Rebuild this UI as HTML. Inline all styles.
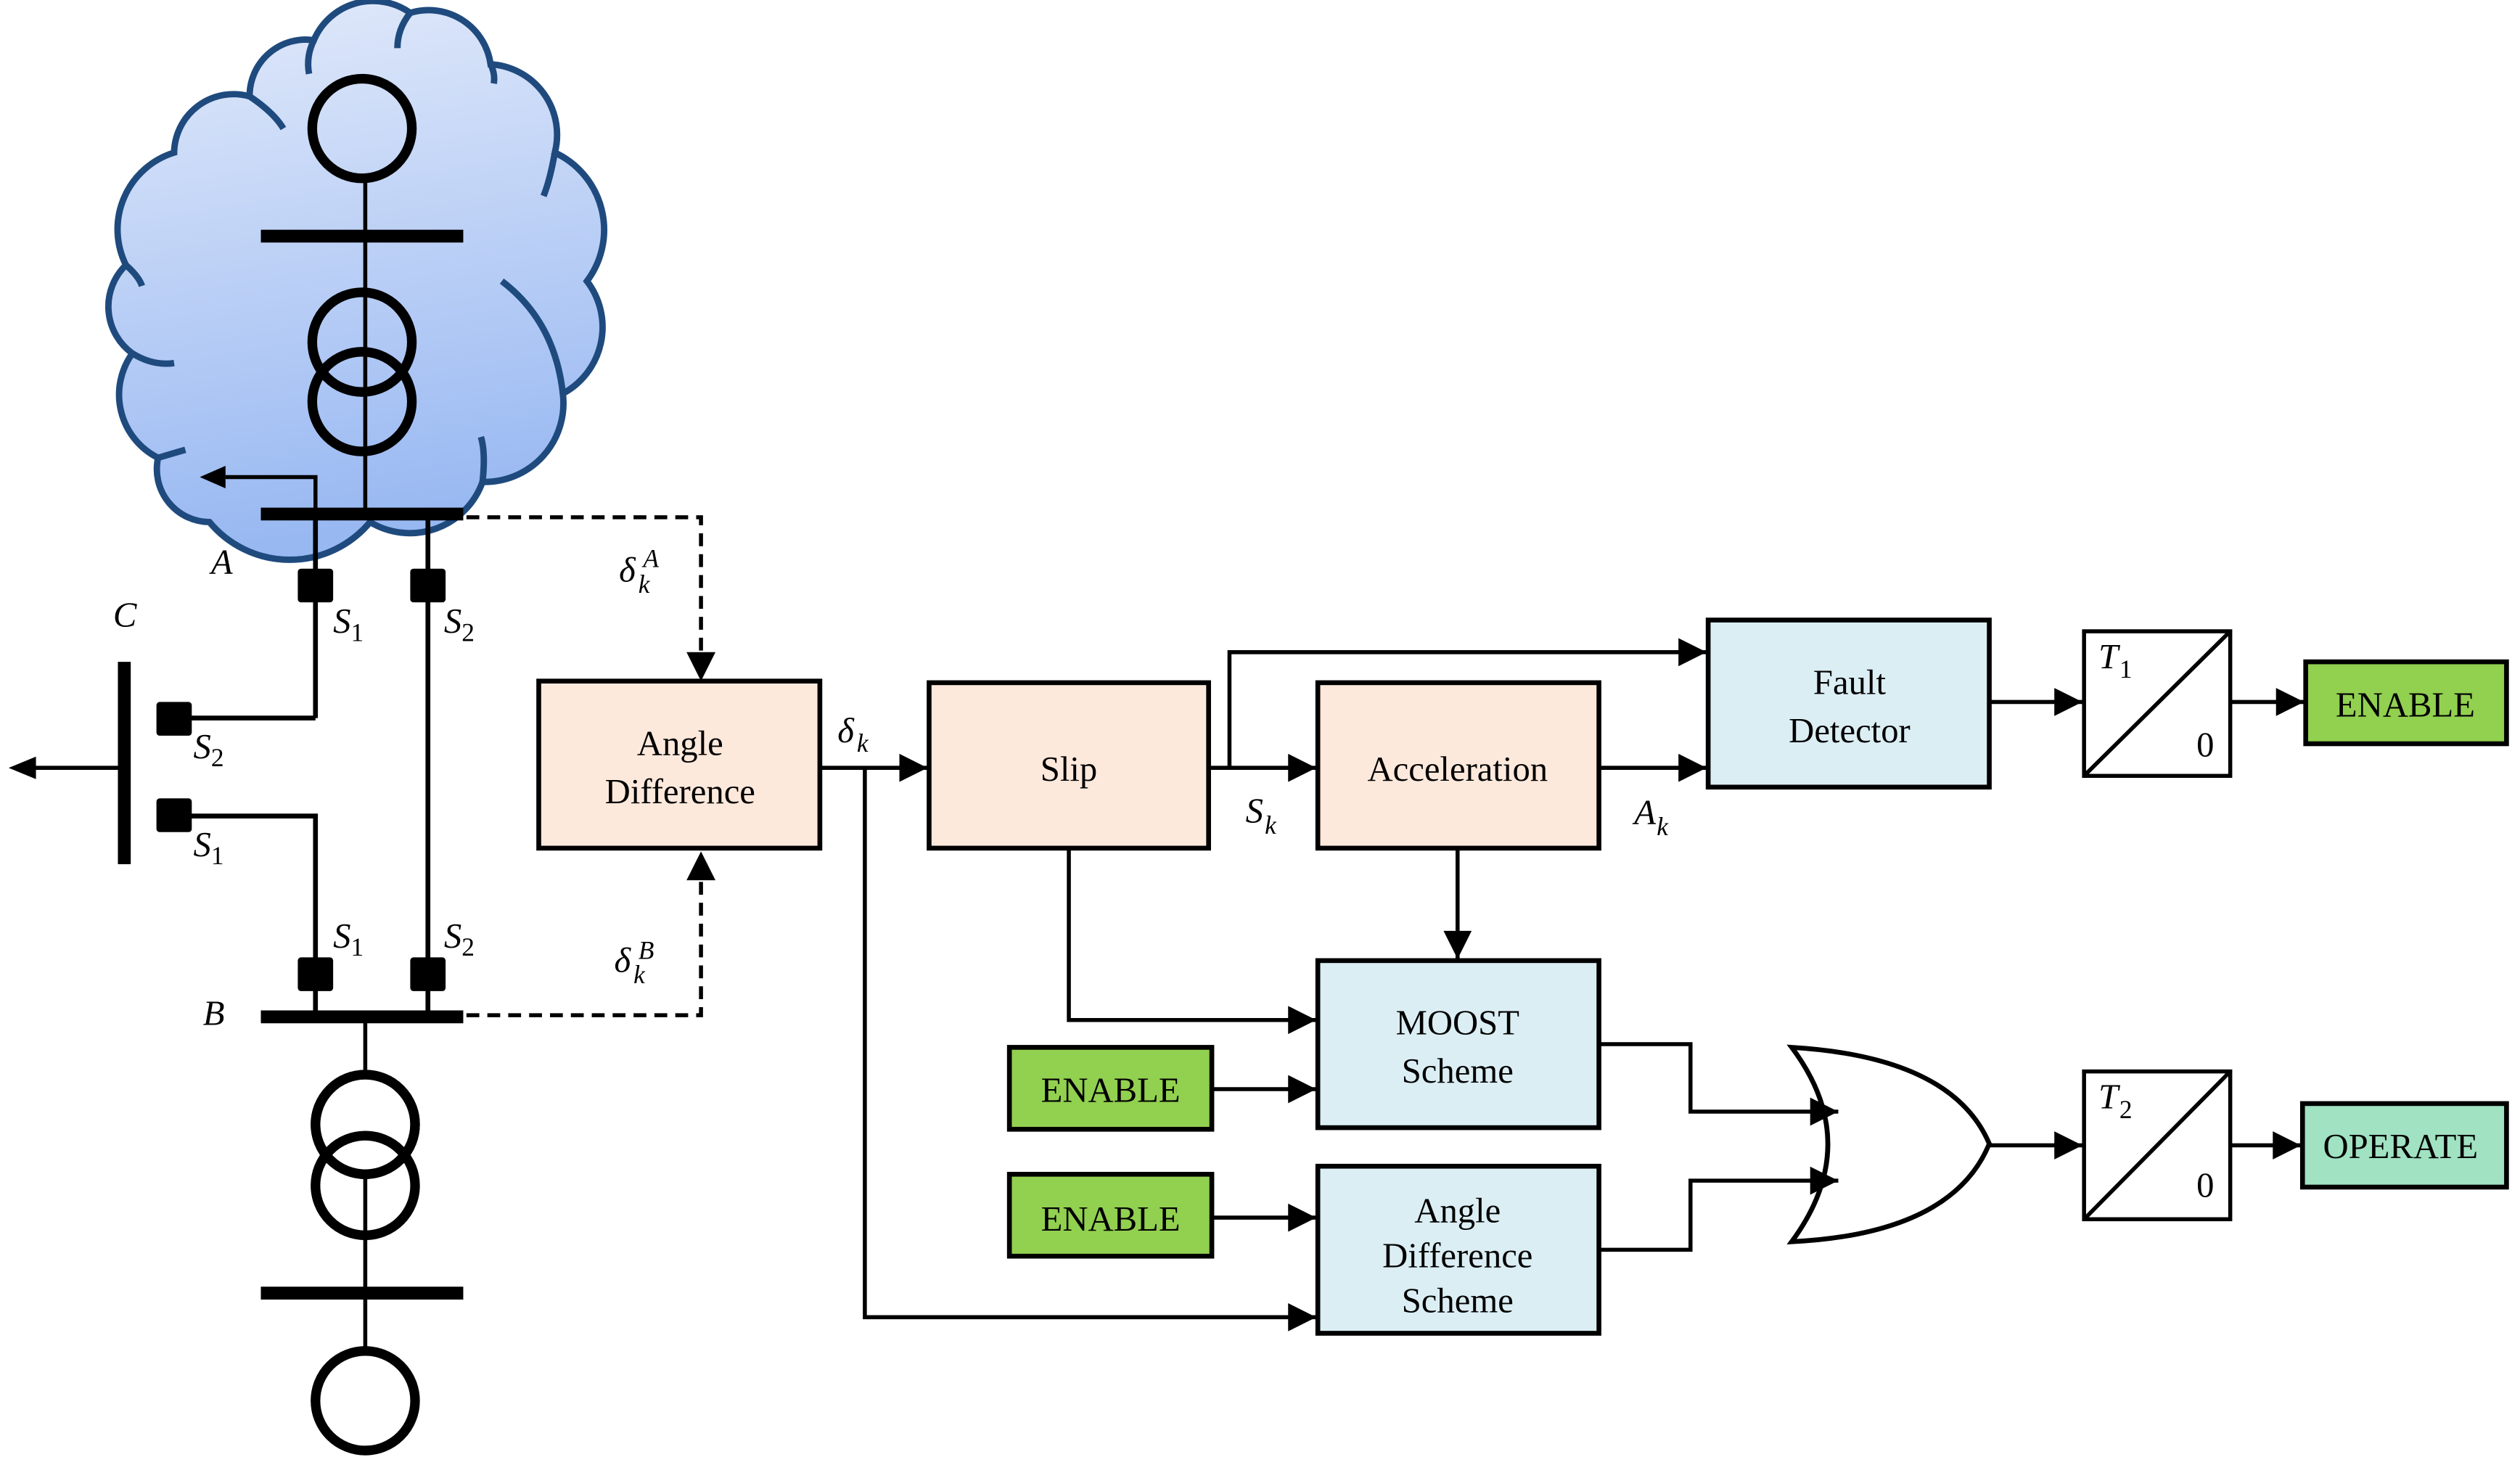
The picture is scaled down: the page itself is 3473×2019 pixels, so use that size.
<!DOCTYPE html>
<html><head><meta charset="utf-8"><style>
html,body{margin:0;padding:0;background:#fff}
svg{display:block}
svg text, svg tspan{font-family:"Liberation Serif","Times New Roman",Times,"DejaVu Serif",serif !important}
</style></head><body>
<svg width="3473" height="2019" viewBox="0 0 1568 912" xmlns="http://www.w3.org/2000/svg" style="font-family:'Liberation Serif','Times New Roman',Times,serif">
<defs>
<linearGradient id="cg" x1="0" y1="0" x2="0.15" y2="1">
<stop offset="0" stop-color="#e2eafa"/><stop offset="1" stop-color="#98b8f2"/>
</linearGradient>
<marker id="ahs" viewBox="0 0 10 10" refX="10" refY="5" markerWidth="7.5" markerHeight="7" markerUnits="strokeWidth" orient="auto"><path d="M0,0 L10,5 L0,10 Z" fill="#000"/></marker>
</defs>
<!-- cloud -->
<path d="M130,325 A33 33 0 0 1 98,285 A44 44 0 0 1 82,220 A36 36 0 0 1 78,165 A50 50 0 0 1 108,95 A37 37 0 0 1 155,60 A35 35 0 0 1 195,25 A40 40 0 0 1 255,8 A39 39 0 0 1 305,40 A44 44 0 0 1 345,95 A53 53 0 0 1 365,175 A47 47 0 0 1 350,245 A49 49 0 0 1 300,300 A48 48 0 0 1 230,325 A65 65 0 0 1 130,325 Z" fill="url(#cg)" stroke="#1f4a7e" stroke-width="4"/>
<g fill="none" stroke="#1f4a7e" stroke-width="4">
<path d="M155,60 Q170,70 176,80"/><path d="M195,25 Q190,35 192,46"/><path d="M255,8 Q247,18 247,30"/><path d="M305,40 Q308,46 307,52"/><path d="M345,95 Q342,112 338,122"/><path d="M312,175 Q345,200 350,245"/><path d="M300,300 Q302,282 299,272"/><path d="M82,220 Q95,228 108,226"/><path d="M98,285 Q108,282 115,280"/><path d="M78,165 Q86,172 88,178"/>
</g>
<!-- top network -->
<g stroke="#000" fill="none">
<line x1="227" y1="112" x2="227" y2="320" stroke-width="2.5"/>
<circle cx="225" cy="80" r="31" stroke-width="6"/>
<circle cx="225" cy="213" r="31" stroke-width="6"/>
<circle cx="225" cy="250" r="31" stroke-width="6"/>
<line x1="162" y1="147" x2="288" y2="147" stroke-width="8"/>
<line x1="162" y1="320" x2="288" y2="320" stroke-width="8"/>
<polyline points="196,320 196,297 140,297" stroke-width="2.5"/>
<line x1="196" y1="320" x2="196" y2="447" stroke-width="3"/>
<line x1="266" y1="320" x2="266" y2="633" stroke-width="3"/>
<polyline points="196,447 108,447" stroke-width="3"/>
<polyline points="108,508 196,508 196,633" stroke-width="3"/>
<line x1="77" y1="412" x2="77" y2="538" stroke-width="8"/>
<line x1="77" y1="478" x2="20" y2="478" stroke-width="2.5"/>
<line x1="162" y1="633" x2="288" y2="633" stroke-width="8"/>
<line x1="227" y1="633" x2="227" y2="905" stroke-width="2.5"/>
<circle cx="227" cy="700" r="31" stroke-width="6" fill="#fff"/>
<circle cx="227" cy="738" r="31" stroke-width="6"/>
<circle cx="227" cy="700" r="31" stroke-width="6"/>
<line x1="162" y1="805" x2="288" y2="805" stroke-width="8"/>
<circle cx="227" cy="872" r="31" stroke-width="6" fill="#fff"/>
</g>
<path d="M140,290 L124,297 L140,304 Z"/>
<path d="M22,471 L5,478 L22,485 Z"/>
<g fill="#000">
<rect x="185" y="354" width="22" height="21" rx="2"/><rect x="255" y="354" width="22" height="21" rx="2"/>
<rect x="97" y="437" width="22" height="21" rx="2"/><rect x="97" y="497" width="22" height="21" rx="2"/>
<rect x="185" y="596" width="22" height="21" rx="2"/><rect x="255" y="596" width="22" height="21" rx="2"/>
</g>
<!-- dashed -->
<g stroke="#000" stroke-width="2.5" fill="none" stroke-dasharray="8,5">
<polyline points="290,322 436,322 436,408"/>
<polyline points="290,632 436,632 436,547"/>
</g>
<path d="M427,406 L436,424 L445,406 Z"/><path d="M427,548 L436,530 L445,548 Z"/>
<!-- boxes -->
<g stroke="#000" stroke-width="3">
<rect x="335" y="424" width="175" height="104" fill="#fde9dc"/>
<rect x="578" y="425" width="174" height="103" fill="#fde9dc"/>
<rect x="820" y="425" width="175" height="103" fill="#fde9dc"/>
<rect x="1063" y="386" width="175" height="104" fill="#dbeef4"/>
<rect x="820" y="598" width="175" height="104" fill="#dbeef4"/>
<rect x="820" y="726" width="175" height="104" fill="#dbeef4"/>
<rect x="1435" y="412" width="125" height="51" fill="#92d050"/>
<rect x="628" y="652" width="126" height="51" fill="#92d050"/>
<rect x="628" y="731" width="126" height="51" fill="#92d050"/>
<rect x="1433" y="687" width="127" height="52" fill="#a0e2c2"/>
<rect x="1297" y="393" width="91" height="90" fill="#fff" stroke-width="2.5"/>
<rect x="1297" y="667" width="91" height="92" fill="#fff" stroke-width="2.5"/>
</g>
<line x1="1297" y1="483" x2="1388" y2="393" stroke="#000" stroke-width="2.5"/>
<line x1="1297" y1="759" x2="1388" y2="667" stroke="#000" stroke-width="2.5"/>
<text x="1367" y="471" font-size="22">0</text><text x="1367" y="745" font-size="22">0</text>
<!-- OR gate -->
<path d="M1115,652 Q1215,658 1238,712 Q1215,768 1115,773 Q1160,712 1115,652 Z" fill="#fff" stroke="#000" stroke-width="3"/>
<!-- connectors -->
<g stroke="#000" stroke-width="2.5" fill="none" marker-end="url(#ahs)">
<line x1="510" y1="478" x2="577" y2="478"/>
<line x1="752" y1="478" x2="819" y2="478"/>
<polyline points="765,478 765,406 1062,406"/>
<line x1="995" y1="478" x2="1062" y2="478"/>
<line x1="1238" y1="437" x2="1296" y2="437"/>
<line x1="1388" y1="437" x2="1434" y2="437"/>
<line x1="907" y1="528" x2="907" y2="597"/>
<polyline points="665,528 665,635 819,635"/>
<line x1="754" y1="678" x2="819" y2="678"/>
<line x1="754" y1="758" x2="819" y2="758"/>
<polyline points="538,478 538,820 819,820"/>
<polyline points="995,650 1052,650 1052,692 1144,692"/>
<polyline points="995,778 1052,778 1052,735 1144,735"/>
<line x1="1238" y1="713" x2="1296" y2="713"/>
<line x1="1388" y1="713" x2="1432" y2="713"/>
</g>
<g font-style="italic" font-size="22">
<text x="131" y="357">A</text><text x="70" y="390">C</text><text x="126" y="638">B</text>
<text x="207" y="394">S<tspan font-size="16" font-style="normal" dy="5">1</tspan></text>
<text x="276" y="394">S<tspan font-size="16" font-style="normal" dy="5">2</tspan></text>
<text x="120" y="472">S<tspan font-size="16" font-style="normal" dy="5">2</tspan></text>
<text x="120" y="533">S<tspan font-size="16" font-style="normal" dy="5">1</tspan></text>
<text x="207" y="590">S<tspan font-size="16" font-style="normal" dy="5">1</tspan></text>
<text x="276" y="590">S<tspan font-size="16" font-style="normal" dy="5">2</tspan></text>
<text x="385" y="362">δ</text><text x="397" y="369" font-size="16">k</text><text x="400" y="353" font-size="16">A</text>
<text x="382" y="605">δ</text><text x="394" y="612" font-size="16">k</text><text x="397" y="597" font-size="16">B</text>
<text x="521" y="462">δ</text><text x="533" y="468" font-size="16">k</text>
<text x="775" y="512">S</text><text x="787" y="519" font-size="16">k</text>
<text x="1017" y="513">A</text><text x="1031" y="520" font-size="16">k</text>
<text x="1306" y="416">T</text><text x="1319" y="422" font-size="16" font-style="normal">1</text>
<text x="1306" y="690">T</text><text x="1319" y="696" font-size="16" font-style="normal">2</text>
</g>
<g font-size="22" text-anchor="middle">
<text x="423" y="470">Angle</text><text x="423" y="500">Difference</text>
<text x="665" y="486">Slip</text>
<text x="907" y="486">Acceleration</text>
<text x="1151" y="432">Fault</text><text x="1151" y="462">Detector</text>
<text x="907" y="644">MOOST</text><text x="907" y="674">Scheme</text>
<text x="907" y="761">Angle</text><text x="907" y="789">Difference</text><text x="907" y="817">Scheme</text>
<text x="1497" y="446">ENABLE</text>
<text x="691" y="686">ENABLE</text>
<text x="691" y="766">ENABLE</text>
<text x="1494" y="721">OPERATE</text>
</g>
</svg>
</body></html>
